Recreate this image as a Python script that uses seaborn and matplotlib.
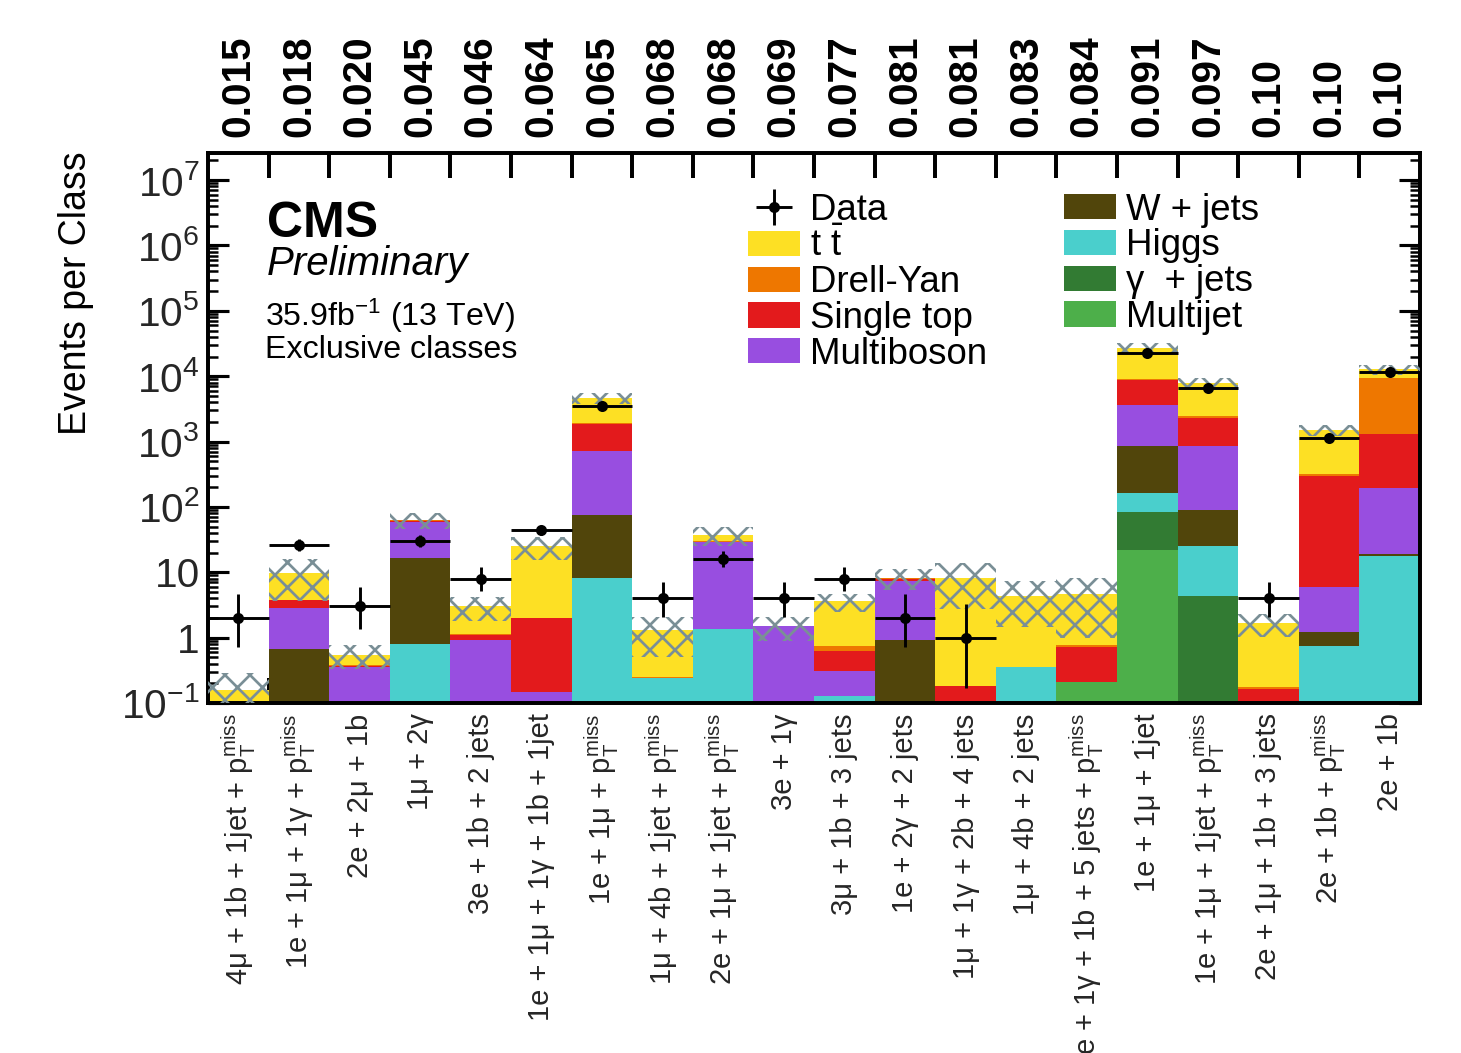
import numpy as np
import pandas as pd
import matplotlib
matplotlib.use("Agg")
import matplotlib.pyplot as plt
from matplotlib.patches import Patch
from matplotlib.ticker import LogLocator, NullFormatter
from matplotlib.transforms import blended_transform_factory
import seaborn as sns

# ---------------------------------------------------------------- data
PT = r"$\mathrm{p}_{\mathrm{T}}^{\mathrm{miss}}$"
classes = [
    "4μ + 1b + 1jet + " + PT,
    "1e + 1μ + 1γ + " + PT,
    "2e + 2μ + 1b",
    "1μ + 2γ",
    "3e + 1b + 2 jets",
    "1e + 1μ + 1γ + 1b + 1jet",
    "1e + 1μ + " + PT,
    "1μ + 4b + 1jet + " + PT,
    "2e + 1μ + 1jet + " + PT,
    "3e + 1γ",
    "3μ + 1b + 3 jets",
    "1e + 2γ + 2 jets",
    "1μ + 1γ + 2b + 4 jets",
    "1μ + 4b + 2 jets",
    "1e + 1γ + 1b + 5 jets + " + PT,
    "1e + 1μ + 1jet",
    "1e + 1μ + 1jet + " + PT,
    "2e + 1μ + 1b + 3 jets",
    "2e + 1b + " + PT,
    "2e + 1b",
]
p_tilde = ["0.015", "0.018", "0.020", "0.045", "0.046", "0.064", "0.065",
           "0.068", "0.068", "0.069", "0.077", "0.081", "0.081", "0.083",
           "0.084", "0.091", "0.097", "0.10", "0.10", "0.10"]

data_obs = [2, 26, 3, 30, 8, 44, 3550, 4, 16, 4, 8, 2, 1, 0, 0,
            23000, 6600, 4, 1150, 11500]

ttbar = [0.16, 5.9, 0.17, 0.5, 1.86, 23, 2700, 1.05, 7.3, 0.01, 2.85, 0.0,
         8.1, 4.0, 3.8, 17900, 5380, 1.5, 1180, 3250]
drell_yan = [0, 0, 0.01, 2.5, 0.03, 0, 50, 0.01, 0.3, 0, 0.12, 0.45,
             0, 0, 0.06, 500, 140, 0.01, 27, 8230]
single_top = [0, 0.95, 0.01, 2.0, 0.2, 1.85, 1130, 0, 0.4, 0, 0.32, 0.45,
              0.18, 0, 0.51, 5000, 1415, 0.165, 287, 1125]
multiboson = [0, 2.17, 0.36, 41.5, 0.91, 0.146, 646, 0, 27.6, 1.49, 0.18,
              6.47, 0, 0, 0, 2730, 774, 0, 4.8, 176]
w_jets = [0, 0.68, 0, 15.7, 0, 0, 66, 0, 0, 0, 0, 0.93, 0, 0, 0, 704,
          65.5, 0, 0.45, 1.5]
higgs = [0, 0, 0, 0.81, 0, 0, 8.2, 0.24, 1.37, 0, 0.13, 0, 0, 0.36, 0,
         81, 21, 0, 0.75, 17.5]
gamma_jets = [0, 0, 0, 0, 0, 0, 0, 0, 0, 0, 0, 0, 0, 0, 0, 63, 4.4, 0, 0, 0]
multijet = [0, 0, 0, 0, 0, 0, 0, 0, 0, 0, 0, 0, 0, 0, 0.21, 22, 0, 0, 0, 0]

# total MC uncertainty per class (absolute)
mc_unc = [0.13, 6.0, 0.22, 17, 1.2, 9.5, 900, 0.8, 12, 0.6, 1.1, 2.9, 5.5,
          2.9, 3.6, 4800, 1600, 0.65, 300, 2300]

processes = ["ttbar", "dy", "stop", "vv", "wjets", "higgs", "gjets", "qcd"]
proc_labels = [r"t $\bar{\mathrm{t}}$", "Drell-Yan", "Single top", "Multiboson",
               "W + jets", "Higgs", "γ  + jets", "Multijet"]
proc_values = [ttbar, drell_yan, single_top, multiboson, w_jets, higgs,
               gamma_jets, multijet]
proc_colors = ["#fde024", "#ee7700", "#e31a1c", "#984ee0", "#51450b",
               "#4acfcc", "#327b33", "#4daf4a"]

# ---------------------------------------------------------------- style
sns.set_theme(style="white")
plt.rcParams["font.family"] = ["Liberation Sans", "DejaVu Sans"]
plt.rcParams.update({
    "mathtext.fontset": "custom",
    "mathtext.rm": "Liberation Sans",
    "mathtext.it": "Liberation Sans:italic",
    "mathtext.bf": "Liberation Sans:bold",
    "hatch.color": "#7a8f96",
    "hatch.linewidth": 1.3,
    "axes.linewidth": 1.9,
    "axes.edgecolor": "black",
    "text.color": "black",
})

n_bins = len(classes)
bins = np.arange(n_bins)

df = pd.DataFrame({
    "bin": np.tile(bins, len(processes)),
    "process": np.repeat(processes, n_bins),
    "events": np.concatenate([np.asarray(v, float) for v in proc_values]),
})

DPI = 150
fig = plt.figure(figsize=(1461 / DPI, 1053 / DPI), dpi=DPI)
ax = fig.add_axes([208 / 1461, 1 - 703 / 1053, 1212 / 1461, 550 / 1053])

# stacked simulation (first hue level ends up on top of the stack)
sns.histplot(data=df, x="bin", weights="events", hue="process",
             hue_order=processes, palette=dict(zip(processes, proc_colors)),
             multiple="stack", discrete=True, shrink=1, element="bars",
             linewidth=0, alpha=1, legend=False, ax=ax)
ax.set_yscale("log")

# MC uncertainty band
total = np.sum([np.asarray(v, float) for v in proc_values], axis=0)
unc = np.asarray(mc_unc, float)
low = np.maximum(total - unc, 1e-3)
ax.bar(bins, total + unc - low, bottom=low, width=1.0, facecolor="none",
       edgecolor="#7a8f96", hatch="xx", linewidth=0, zorder=3)

# observed data with Poisson (Gehrels) intervals
obs = np.asarray(data_obs, float)
has = obs > 0
n = obs[has]
err_up = 1 + np.sqrt(n + 0.75)
err_lo = n - n * (1 - 1 / (9 * n) - 1 / (3 * np.sqrt(n))) ** 3
eb = ax.errorbar(bins[has], n, xerr=0.5, yerr=[err_lo, err_up], fmt="o",
                 color="black", markersize=4.3, elinewidth=1.4, capsize=0,
                 zorder=5)

# ---------------------------------------------------------------- axes
ax.set_xlim(-0.5, n_bins - 0.5)
ax.set_ylim(0.1, 2.6e7)
ax.set_xlabel("")
ax.set_ylabel("")

ax.set_xticks(bins)
ax.set_xticklabels(classes, rotation=90, fontsize=14, va="top", ha="center")
ax.tick_params(axis="x", which="major", length=0, pad=5)
ax.set_xticks(np.arange(0.5, n_bins - 0.5, 1.0), minor=True)
ax.tick_params(axis="x", which="minor", direction="in", length=12,
               width=1.9, top=True, bottom=True, color="black")

yt = [0.1, 1, 10, 1e2, 1e3, 1e4, 1e5, 1e6, 1e7]
ytl = [r"$10^{-1}$", "1", "10", r"$10^{2}$", r"$10^{3}$", r"$10^{4}$",
       r"$10^{5}$", r"$10^{6}$", r"$10^{7}$"]
ax.set_yticks(yt)
ax.set_yticklabels(ytl, fontsize=19.5)
ax.yaxis.set_minor_locator(LogLocator(base=10, subs=np.arange(2, 10), numticks=20))
ax.yaxis.set_minor_formatter(NullFormatter())
ax.tick_params(axis="y", which="major", direction="in", length=10, width=1.5,
               left=True, right=True, pad=4, color="black")
ax.tick_params(axis="y", which="minor", direction="in", length=5, width=1.2,
               left=True, right=True, color="black")
for s in ax.spines.values():
    s.set_color("black")
    s.set_linewidth(1.9)

ax.text(-0.109, 0.745, "Events per Class", transform=ax.transAxes,
        rotation=90, ha="center", va="center", fontsize=18)

# p-tilde values above each class
trans = blended_transform_factory(ax.transData, ax.transAxes)
for i, p in enumerate(p_tilde):
    ax.text(i, 1.029, p, transform=trans, rotation=90, ha="center",
            va="bottom", fontsize=19.5, fontweight="bold")

# CMS labels
ax.text(0.0487, 0.847, "CMS", transform=ax.transAxes, fontsize=24,
        fontweight="bold", va="baseline")
ax.text(0.0487, 0.778, "Preliminary", transform=ax.transAxes, fontsize=19.3,
        fontstyle="italic", va="baseline")
ax.text(0.0472, 0.685, r"35.9fb$^{\mathregular{-1}}$ (13 TeV)",
        transform=ax.transAxes, fontsize=15.4, va="baseline")
ax.text(0.0472, 0.627, "Exclusive classes", transform=ax.transAxes,
        fontsize=15.4, va="baseline")

# legend
handles = [eb] + [Patch(facecolor=c, edgecolor="none") for c in proc_colors]
labels = ["Data"] + proc_labels
ax.legend(handles, labels, ncol=2, loc="upper left",
          bbox_to_anchor=(0.4455, 0.928), frameon=False, fontsize=17.6,
          handlelength=1.42, handleheight=0.68, handletextpad=0.27,
          columnspacing=2.1, labelspacing=0.02, borderpad=0,
          borderaxespad=0)

fig.savefig("out.png", dpi=DPI)
